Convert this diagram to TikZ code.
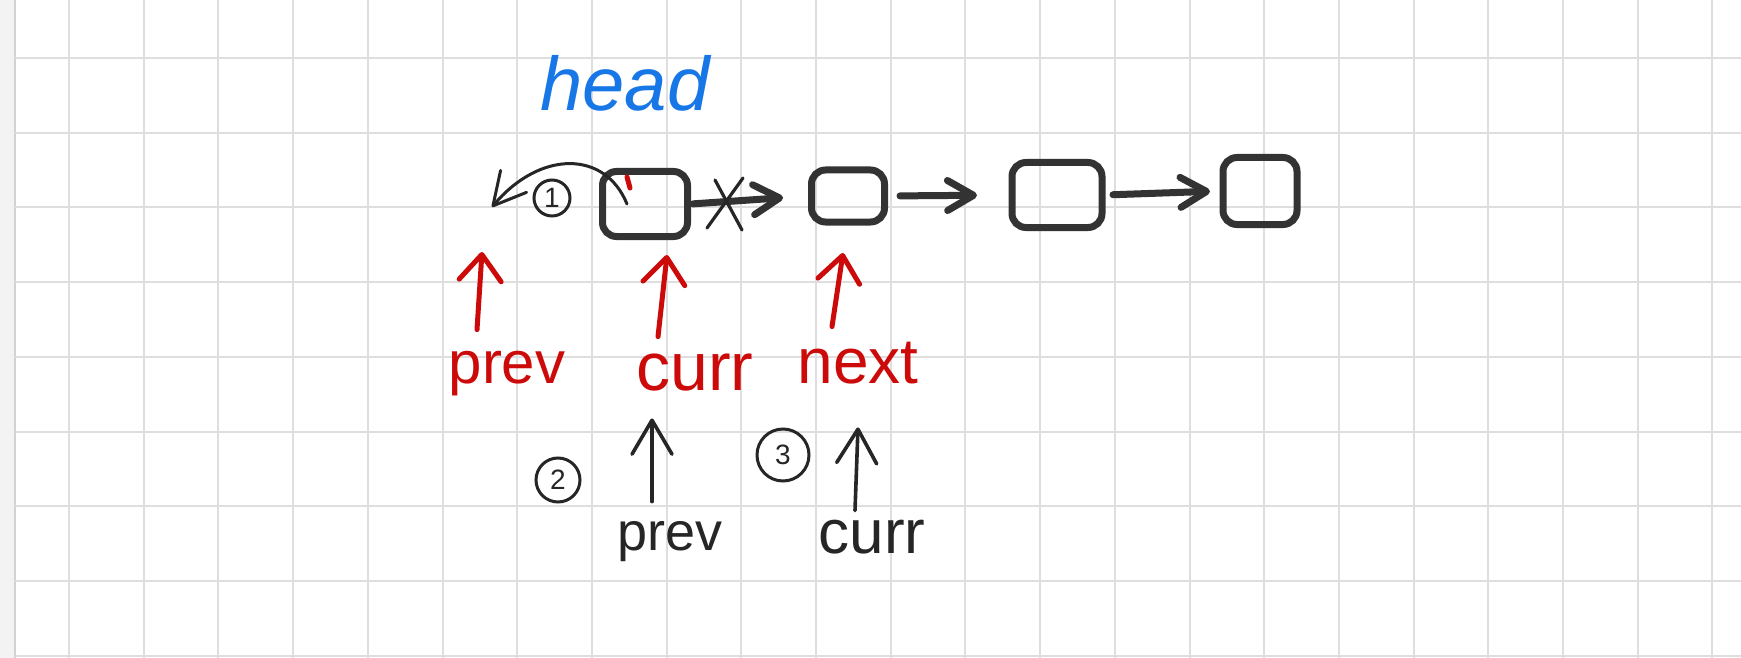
\documentclass[tikz,border=0pt]{standalone}
\usepackage{fontspec}
\setmainfont{Liberation Sans}
\usetikzlibrary{arrows.meta}
\definecolor{gridc}{HTML}{DEDEDE}
\definecolor{stripc}{HTML}{F3F3F3}
\definecolor{stripedge}{HTML}{D2D2D2}
\definecolor{ink}{HTML}{333333}
\definecolor{pencil}{HTML}{262626}
\definecolor{redink}{HTML}{CC0A0A}
\definecolor{blueink}{HTML}{1877E6}
\tikzset{
  listbox/.style={draw=ink, line width=3.5pt, rounded corners=7pt, inner sep=0pt},
  linkarr/.style={draw=ink, line width=3.5pt, line cap=round, -{Straight Barb[length=13pt,width=15pt,round]}},
  redarr/.style={draw=redink, line width=2.5pt, line cap=round, -{Straight Barb[length=13pt,width=21pt,round]}},
  pencilarr/.style={draw=pencil, line width=1.8pt, line cap=round, -{Straight Barb[length=17pt,width=20pt,round]}},
  curvearr/.style={draw=pencil, line width=1.5pt, line cap=round, -{Straight Barb[length=16pt,width=17pt,round]}},
  redlabel/.style={text=redink, anchor=base, inner sep=0pt, text height=16pt, text depth=0pt},
  pencillabel/.style={text=pencil, anchor=base, inner sep=0pt, text height=16pt, text depth=0pt},
  circnum/.style={draw=pencil, circle, line width=1.5pt, inner sep=0pt, text=pencil, font=\fontsize{14}{14}\selectfont},
  xstroke/.style={draw=pencil, line width=1.6pt, line cap=round}
}
\begin{document}
\begin{tikzpicture}[x=0.5pt,y=-0.5pt]
% paper
\useasboundingbox (0,0) rectangle (1741,658);
\fill[white] (0,0) rectangle (1741,658);
\fill[stripc] (0,0) rectangle (15,658);
\draw[stripedge, line width=1pt] (14.5,0) -- (14.5,658);
\foreach \i in {0,...,22} \draw[gridc, line width=1pt] ({69+74.7*\i},0) -- ({69+74.7*\i},658);
\foreach \j in {0,...,8} \draw[gridc, line width=1pt] (15,{58+74.7*\j}) -- (1741,{58+74.7*\j});

% head label
\node[text=blueink, anchor=base, inner sep=0pt, font=\fontsize{38}{38}\itshape] (head) at (625,111) {head};

% list nodes
\node[listbox, minimum width=42.5pt, minimum height=32.5pt] (b1) at (645,204) {};
\node[listbox, minimum width=36.5pt, minimum height=26pt]   (b2) at (848,196) {};
\node[listbox, minimum width=45pt,   minimum height=32.5pt] (b3) at (1057,195) {};
\node[listbox, minimum width=37pt,   minimum height=33.5pt] (b4) at (1260,191) {};

% links
\draw[linkarr, shorten <=1pt, shorten >=12.5pt] (b1.east) -- (b2.west);
\draw[linkarr, shorten <=6pt, shorten >=15.75pt] (b2.east) -- (b3.west);
\draw[linkarr, shorten <=3.75pt, shorten >=4.75pt] (b3.east) -- (b4.west);

% cross over first link
\coordinate (xm) at (727,204);
\draw[xstroke] (xm) ++(16,-26) -- ++(-36,50);
\draw[xstroke] (xm) ++(-12,-24) -- ++(27,50);

% small red tick in first box
\draw[redink, line width=2.5pt, line cap=round] (627,177) -- (630,188);

% reversed pointer (step 1)
\coordinate (nullp) at (492,207);
\draw[curvearr] ([xshift=-9pt]b1.center) .. controls (605,150) and (540,150) .. (nullp);
\node[circnum, minimum size=18pt] (c1) at (552,198) {1};

% red labels
\node[redlabel, font=\fontsize{30}{30}\selectfont] (rprev) at (507,383) {prev};
\node[redlabel, font=\fontsize{34}{34}\selectfont] (rcurr) at (695,390) {curr};
\node[redlabel, font=\fontsize{32}{32}\selectfont] (rnext) at (858,383) {next};
\coordinate (nullr) at (482,252);
\draw[redarr] ([xshift=-15pt,yshift=10.5pt]rprev.north) -- (nullr);
\draw[redarr] ([xshift=-18.5pt,yshift=10.5pt]rcurr.north) -- ([xshift=11pt,yshift=-7.5pt]b1.south);
\draw[redarr] ([xshift=-13pt,yshift=12pt]rnext.north) -- ([xshift=-2.5pt,yshift=-13.75pt]b2.south);

% steps 2 and 3
\node[circnum, minimum size=22pt] (c2) at (558,480) {2};
\node[circnum, minimum size=26pt] (c3) at (783,455) {3};
\node[pencillabel, font=\fontsize{27}{27}\selectfont] (pprev) at (670,550) {prev};
\node[pencillabel, font=\fontsize{31}{31}\selectfont] (pcurr) at (872,553) {curr};
\draw[pencilarr] ([xshift=-9pt,yshift=8pt]pprev.north) -- ([xshift=-21.5pt,yshift=-14pt]rcurr.south);
\draw[pencilarr] ([xshift=-8.5pt,yshift=5pt]pcurr.north) -- ([yshift=-22pt]rnext.south);
\end{tikzpicture}
\end{document}
